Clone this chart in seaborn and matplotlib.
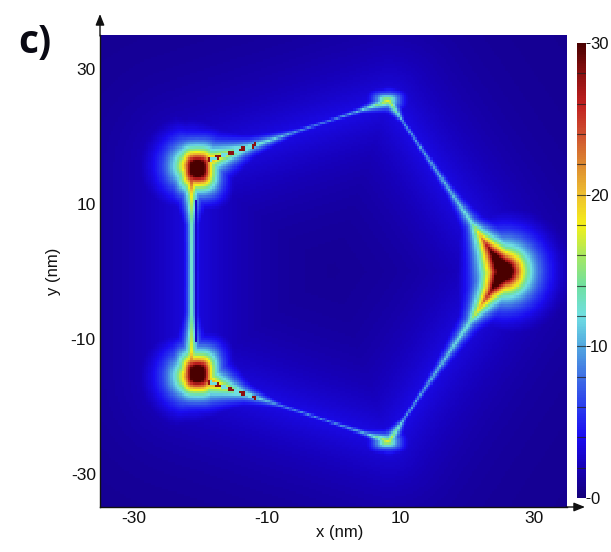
import numpy as np
import matplotlib
matplotlib.use("Agg")
import matplotlib.pyplot as plt
from matplotlib.colors import LinearSegmentedColormap
import seaborn as sns

# Values (nm, field level)
x_ticks = [-30, -10, 10, 30]
y_ticks = [30, 10, -10, -30]
cbar_ticks = [0, 10, 20, 30]
cbar_levels = [2, 4, 6, 8, 10, 12, 14, 16, 18, 20, 22, 24, 26, 28]
vertex_x = [-21.3, 8.3, 25.6, 8.3, -21.3]
vertex_y = [15.6, 25.2, 0.0, -25.2, -15.6]
stations = [0, .12, .3, .55, .72, .86, 1]
# ridge level and outward glow width at the stations along each edge
edge_levels = [
    [30, 21, 14, 9, 9, 11, 18],
    [18, 10, 10, 11, 13, 28, 45],
    [45, 28, 13, 11, 10, 10, 18],
    [18, 11, 9, 9, 14, 21, 30],
    [30, 18, 13, 12.5, 13, 18, 30],
]
edge_glow = [
    [2.8, 2.3, 1.2, 0.45, 0.35, 0.5, 1.2],
    [1.2, 0.4, 0.5, 0.8, 1.4, 2.2, 3.0],
    [3.0, 2.2, 1.4, 0.8, 0.5, 0.4, 1.2],
    [1.2, 0.5, 0.35, 0.45, 1.2, 2.3, 2.8],
    [2.6, 1.5, 0.9, 0.9, 0.9, 1.5, 2.6],
]
spot_x = [-20.4, -20.4, 8.0, 8.0]
spot_y = [15.2, -15.2, 25.3, -25.3]
spot_level = [42, 42, 18, 18]
spot_sx = [2.4, 2.4, 2.0, 2.0]
spot_sy = [2.8, 2.8, 1.1, 1.1]
dot_period = 0.95
halo_level = 3.0
floor_level = 0.7
level_stops = [0, 2, 4, 6, 8, 10, 12, 14, 16, 18, 20, 22, 24, 26, 28, 30]
level_colors = ["#14007a", "#1600b8", "#1a0cf0", "#2a3cee", "#3f70e4", "#52a8e0",
                "#70dfe2", "#70e0a0", "#a8e860", "#f4f018", "#eec030", "#dd8a30",
                "#cf5030", "#c02020", "#8c1010", "#4a0000"]

cell = 0.33
xs = np.arange(-35 + cell / 2, 35, cell)
ys = np.arange(35 - cell / 2, -35, -cell)
X, Y = np.meshgrid(xs, ys)
n = len(vertex_x)

inside = np.ones_like(X, bool)
for i in range(n):
    ax0, ay0 = vertex_x[i], vertex_y[i]
    bx0, by0 = vertex_x[(i + 1) % n], vertex_y[(i + 1) % n]
    inside &= ((X - ax0) * (by0 - ay0) - (Y - ay0) * (bx0 - ax0)) < 0

field = np.zeros_like(X)
nearest = np.full_like(X, 1e9)
for i in range(n):
    ax0, ay0 = vertex_x[i], vertex_y[i]
    bx0, by0 = vertex_x[(i + 1) % n], vertex_y[(i + 1) % n]
    ex, ey = bx0 - ax0, by0 - ay0
    L = np.hypot(ex, ey)
    t = np.clip(((X - ax0) * ex + (Y - ay0) * ey) / L ** 2, 0, 1)
    d = np.hypot(X - ax0 - t * ex, Y - ay0 - t * ey)
    A = np.interp(t, stations, edge_levels[i])
    W = np.interp(t, stations, edge_glow[i])
    width = np.where(inside, 0.07 + 0.2 * W, W)
    field = np.maximum(field, A * np.exp(-d / width))
    nearest = np.minimum(nearest, d)

for sx, sy, lv, a, b in zip(spot_x, spot_y, spot_level, spot_sx, spot_sy):
    dx, dy = np.abs(X - sx) / a, np.abs(Y - sy) / b
    r = (dx ** 3 + dy ** 3) ** (1 / 3)
    r = np.where(inside, r * 1.45, r)
    field = np.maximum(field, lv * np.exp(-r ** 1.25))

# stair-stepped dotted stretch of the diagonals next to the left corners
for i in (0, 3):
    ax0, ay0 = vertex_x[i], vertex_y[i]
    bx0, by0 = vertex_x[(i + 1) % n], vertex_y[(i + 1) % n]
    ex, ey = bx0 - ax0, by0 - ay0
    L = np.hypot(ex, ey)
    t = np.clip(((X - ax0) * ex + (Y - ay0) * ey) / L ** 2, 0, 1)
    d = np.hypot(X - ax0 - t * ex, Y - ay0 - t * ey)
    s = t if i == 0 else 1 - t
    band = (s > 0.08) & (s < 0.33) & (d < 0.28)
    on = np.floor(s * L / dot_period).astype(int) % 2 == 0
    field[band & on] = 28
    field[band & ~on] = 12

# soft background glow around the pentagon
glow_w = np.where(inside, 5.5, 8.0)
field = np.maximum(field, floor_level + halo_level * np.exp(-nearest / glow_w))
# dark seam on the inner side of the left edge
seam = (X > vertex_x[0] + 0.35) & (X < vertex_x[0] + 0.8) & (np.abs(Y) < 10.5)
field[seam] = np.minimum(field[seam], 2.6)

cmap = LinearSegmentedColormap.from_list(
    "field", [(s / 30, c) for s, c in zip(level_stops, level_colors)], N=256)

sns.set_theme(style="white")
plt.rcParams["font.family"] = ["Liberation Sans", "DejaVu Sans"]
W_, H_ = 611, 552
fig = plt.figure(figsize=(W_ / 100, H_ / 100), dpi=100)
ax = fig.add_axes([100 / W_, 1 - 507 / H_, 467 / W_, 472 / H_])
cax = fig.add_axes([577 / W_, 1 - 498 / H_, 9 / W_, 455 / H_])
sns.heatmap(field, ax=ax, cmap=cmap, vmin=0, vmax=30, cbar_ax=cax,
            xticklabels=False, yticklabels=False, rasterized=True,
            cbar_kws={"ticks": cbar_ticks})

ax.set_xticks([(v + 35) / cell for v in x_ticks])
ax.set_xticklabels([str(v) for v in x_ticks], fontsize=12.5, color="#111111", rotation=0)
ax.set_yticks([(35 - v) / cell for v in y_ticks])
ax.set_yticklabels([str(v) for v in y_ticks], fontsize=12.5, color="#111111", rotation=0)
ax.tick_params(axis="x", direction="in", length=5, width=0.7, color="#10005a", bottom=True, pad=3)
ax.tick_params(axis="y", direction="in", length=5, width=0.7, color="#10005a", left=True, pad=3)
ax.set_xlabel("x (nm)", fontsize=12, color="#111111")
ax.set_ylabel("y (nm)", fontsize=12, color="#111111")
ax.xaxis.set_label_coords((340 - 100) / 467, -(533 - 507) / 472, transform=ax.transAxes)
ax.xaxis.label.set_va("center")
ax.yaxis.set_label_coords(-(100 - 53) / 467, (507 - 271) / 472, transform=ax.transAxes)
ax.yaxis.label.set_va("center")
for side_name in ("left", "bottom"):
    ax.spines[side_name].set_visible(True)
    ax.spines[side_name].set_color("#111111")
    ax.spines[side_name].set_linewidth(1.0)

# axis arrows
ax.annotate("", xy=(100 / W_, 1 - 14 / H_), xytext=(100 / W_, 1 - 36 / H_), xycoords="figure fraction",
            arrowprops=dict(arrowstyle="-|>,head_width=0.22,head_length=0.55", color="#111111", lw=1, shrinkA=0, shrinkB=0))
ax.annotate("", xy=(585 / W_, 1 - 507 / H_), xytext=(566 / W_, 1 - 507 / H_), xycoords="figure fraction",
            arrowprops=dict(arrowstyle="-|>,head_width=0.22,head_length=0.55", color="#111111", lw=1, shrinkA=0, shrinkB=0))

cax.tick_params(axis="y", length=3, width=0.7, labelsize=12, pad=0, colors="#111111", right=True)
for lv in cbar_levels:
    cax.axhline(lv, color="#222222", lw=0.8, alpha=0.75)
for s in cax.spines.values():
    s.set_visible(False)

fig.text(18 / W_, 1 - 53 / H_, "c)", fontsize=28, fontweight="bold", family="Open Sans", color="#0a0a14")
fig.savefig("out.png", dpi=100, facecolor="white")
